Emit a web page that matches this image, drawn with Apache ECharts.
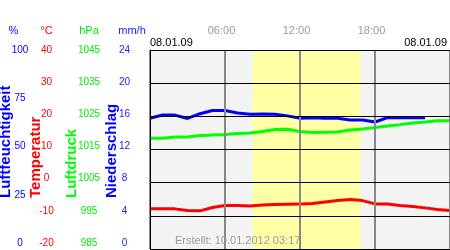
<!DOCTYPE html>
<html><head><meta charset="utf-8">
<script src="https://cdn.jsdelivr.net/npm/echarts@6/dist/echarts.min.js"></script>
<style>html,body{margin:0;padding:0;background:#fff}#c{width:450px;height:250px}</style>
</head><body><div id="c"></div>
<script>
// hours of the day 08.01.09
const hours = [0,1,2,3,4,5,6,7,8,9,10,11,12,13,14,15,16,17,18,19,20,21,22,23,24];
const humidity = [65.7,67.3,67.3,65.6,68,69.6,69.6,68.3,67.7,67.9,67.7,66.9,65.7,65.9,65.7,65.7,64.8,64.8,63.8,66,66,66,66,null,null];
const temperature = [-7.9,-7.9,-7.9,-8.4,-8.5,-7.5,-6.9,-6.9,-7.0,-6.7,-6.6,-6.5,-6.4,-6.3,-5.8,-5.4,-5.1,-5.4,-6.4,-6.4,-6.9,-7.2,-7.6,-8.1,-8.4];
const pressure = [1018.4,1018.4,1018.8,1018.8,1019.2,1019.4,1019.5,1019.8,1020.0,1020.4,1021.0,1021.1,1020.4,1020.1,1020.2,1020.3,1020.9,1021.2,1021.6,1022.1,1022.5,1023.0,1023.3,1023.7,1023.7];
const daylight = [8.2, 16.85];
const humidityTicks = [0,25,50,75,100];
const temperatureTicks = [-20,-10,0,10,20,30,40];
const pressureTicks = [985,995,1005,1015,1025,1035,1045];
const precipTicks = [0,4,8,12,16,20,24];
const hourTicks = [6,12,18];

const BLUE='#0000ff', RED='#ff0000', GREEN='#00ee00', MMBLUE='#2020ff';
const FONT='Liberation Sans, Arial, sans-serif';

function labelAxis(min,max,ticks,color,margin){
  return {type:'value',gridIndex:1,position:'left',offset:0,min:min,max:max,
    axisLine:{show:false},axisTick:{show:false},splitLine:{show:false},
    axisLabel:{customValues:ticks,color:color,fontSize:10,fontFamily:FONT,align:'center',margin:margin,
      formatter:v=>String(v)}};
}
function hiddenAxis(min,max){
  return {type:'value',gridIndex:0,min:min,max:max,show:false,splitLine:{show:false}};
}
const pair = arr => hours.map((h,i)=>[h,arr[i]]);

const chart = echarts.init(document.getElementById('c'),null,{renderer:'canvas'});
chart.setOption({
  animation:false,
  backgroundColor:'#ffffff',
  grid:[
    {left:150,top:50,width:302,height:199,show:true,backgroundColor:'#f3f3f3',borderWidth:0},
    {left:150,top:50,width:302,height:193,show:false}
  ],
  xAxis:[
    {type:'value',gridIndex:0,position:'top',min:0,max:24,interval:6,z:9,
      axisLine:{show:false},axisTick:{show:false},
      splitLine:{show:true,lineStyle:{color:'#888888',width:2}},
      axisLabel:{customValues:hourTicks,color:'#9a9aa6',fontSize:11,fontFamily:FONT,margin:14,padding:[0,7,0,0],
        formatter:v=>(v<10?'0':'')+v+':00'}},
    {type:'value',gridIndex:1,min:0,max:24,show:false}
  ],
  yAxis:[
    {type:'value',gridIndex:0,min:-20,max:40,interval:10,z:10,
      axisLine:{show:true,lineStyle:{color:'#000',width:1}},axisTick:{show:false},axisLabel:{show:false},
      splitLine:{show:true,lineStyle:{color:'#000',width:1}}},
    hiddenAxis(0,100),
    hiddenAxis(985,1045),
    labelAxis(0,100,humidityTicks,BLUE,130),
    labelAxis(-20,40,temperatureTicks,RED,103.5),
    labelAxis(985,1045,pressureTicks,GREEN,61),
    labelAxis(0,24,precipTicks,MMBLUE,25.5)
  ],
  series:[
    {type:'line',xAxisIndex:0,yAxisIndex:0,z:1,data:[],silent:true,
      markArea:{silent:true,itemStyle:{color:'#ffffa5'},data:[[{xAxis:daylight[0]},{xAxis:daylight[1]}]]}},
    {type:'line',name:'Luftdruck',xAxisIndex:0,yAxisIndex:2,z:3,data:pair(pressure),showSymbol:false,symbol:'none',
      lineStyle:{color:'#00ff00',width:3}},
    {type:'line',name:'Temperatur',xAxisIndex:0,yAxisIndex:0,z:3,data:pair(temperature),showSymbol:false,symbol:'none',
      lineStyle:{color:'#ff0000',width:3}},
    {type:'line',name:'Luftfeuchtigkeit',xAxisIndex:0,yAxisIndex:1,z:3,data:pair(humidity),showSymbol:false,symbol:'none',connectNulls:false,
      lineStyle:{color:'#0000ff',width:3}}
  ],
  graphic:[
    {type:'text',x:13.5,y:31,style:{text:'%',fill:BLUE,font:'11px '+FONT,align:'center',verticalAlign:'middle'}},
    {type:'text',x:46.5,y:31,style:{text:'°C',fill:RED,font:'11px '+FONT,align:'center',verticalAlign:'middle'}},
    {type:'text',x:89,y:31,style:{text:'hPa',fill:GREEN,font:'11px '+FONT,align:'center',verticalAlign:'middle'}},
    {type:'text',x:132,y:31,style:{text:'mm/h',fill:MMBLUE,font:'11px '+FONT,align:'center',verticalAlign:'middle'}},
    {type:'text',x:6,y:198,rotation:Math.PI/2,style:{text:'Luftfeuchtigkeit',fill:BLUE,font:'bold 15px '+FONT,align:'left',verticalAlign:'middle'}},
    {type:'text',x:36,y:198,rotation:Math.PI/2,style:{text:'Temperatur',fill:RED,font:'bold 15px '+FONT,align:'left',verticalAlign:'middle'}},
    {type:'text',x:72,y:198,rotation:Math.PI/2,style:{text:'Luftdruck',fill:'#00ff00',font:'bold 15px '+FONT,align:'left',verticalAlign:'middle'}},
    {type:'text',x:112,y:198,rotation:Math.PI/2,style:{text:'Niederschlag',fill:BLUE,font:'bold 15px '+FONT,align:'left',verticalAlign:'middle'}},
    {type:'text',x:150,y:43,style:{text:'08.01.09',fill:'#000',font:'11px '+FONT,align:'left',verticalAlign:'middle'}},
    {type:'text',x:447,y:43,style:{text:'08.01.09',fill:'#000',font:'11px '+FONT,align:'right',verticalAlign:'middle'}},
    {type:'text',x:175,y:241,z:20,style:{text:'Erstellt: 10.01.2012 03:17',fill:'#9a9aa6',font:'11px '+FONT,align:'left',verticalAlign:'middle'}}
  ]
});
</script></body></html>
